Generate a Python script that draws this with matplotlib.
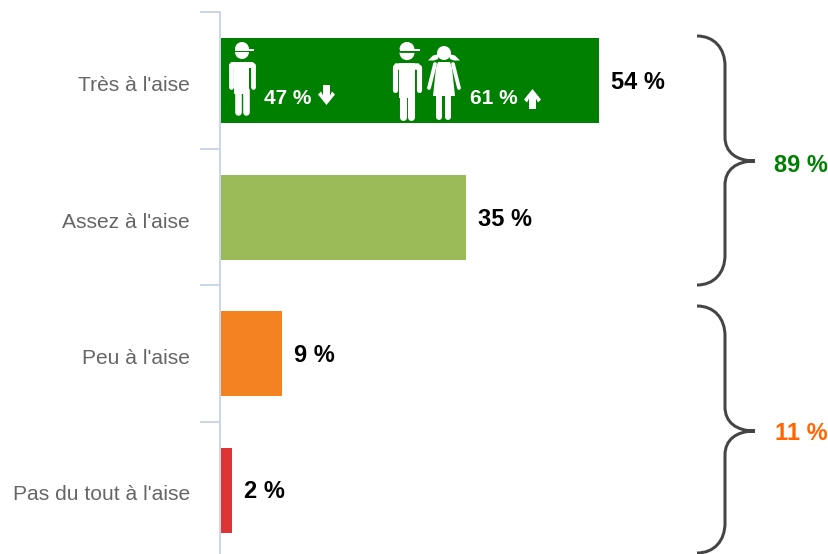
# coding=utf-8
import matplotlib
matplotlib.use("Agg")
import matplotlib.pyplot as plt
from matplotlib.patches import Polygon, Circle, Wedge, PathPatch
from matplotlib.path import Path

plt.rcParams['font.family'] = ['Liberation Sans', 'DejaVu Sans']

categories = ["Très à l'aise", "Assez à l'aise", "Peu à l'aise", "Pas du tout à l'aise"]
values = [54, 35, 8.8, 1.7]
value_labels = ["54 %", "35 %", "9 %", "2 %"]
colors = ["#008000", "#9bbb59", "#f58220", "#e03434"]
group_labels = ["89 %", "11 %"]
group_colors = ["#008000", "#ff6600"]
boy_label = "47 %"
both_label = "61 %"

PX = 72 / 100  # 1 pixel en points
W, H = 829, 554
PX_PER_UNIT = 7.02
BAND = 136.5
FIRST = 80.5

fig = plt.figure(figsize=(W / 100, H / 100), dpi=100)
ax = fig.add_axes([220 / W, 0, (W - 220) / W, 1])
ax.set_xlim(0, (W - 220) / PX_PER_UNIT)
ax.set_ylim((H - FIRST) / BAND, -FIRST / BAND)
ax.patch.set_alpha(0)

ax.barh(range(len(values)), values, height=85 / BAND, color=colors)

for s in ["top", "right", "bottom"]:
    ax.spines[s].set_visible(False)
ax.spines["left"].set_color("#ccd6eb")
ax.spines["left"].set_linewidth(2 * PX)
ax.spines["left"].set_bounds(-0.5, (H - FIRST) / BAND)
ax.set_xticks([])
ax.set_yticks([i - 0.5 for i in range(len(values))])
ax.set_yticklabels([])
ax.tick_params(axis="y", length=20 * PX, width=2 * PX, color="#ccd6eb")

for i, (c, v, lab) in enumerate(zip(categories, values, value_labels)):
    ax.annotate(c, (0, i), xytext=(-30 * PX, -5 * PX), textcoords="offset points",
                ha="right", va="center", fontsize=15.1, color="#666666")
    ax.annotate(lab, (v, i), xytext=(12 * PX, -2 * PX), textcoords="offset points",
                ha="left", va="center", fontsize=17, fontweight="bold", color="black")

# couche en pixels pour les accolades et les pictos
ov = fig.add_axes([0, 0, 1, 1])
ov.set_xlim(0, W)
ov.set_ylim(H, 0)
ov.axis("off")
ov.patch.set_alpha(0)


def brace(top, tip, bottom):
    x0, xv, xt = 697, 725, 755
    verts = [(x0, top), (714, top), (xv, top + 12), (xv, top + 30),
             (xv, tip - 24),
             (xv, tip - 9), (736, tip), (xt, tip),
             (736, tip), (xv, tip + 9), (xv, tip + 24),
             (xv, bottom - 30),
             (xv, bottom - 12), (714, bottom), (x0, bottom)]
    codes = [Path.MOVETO, Path.CURVE4, Path.CURVE4, Path.CURVE4,
             Path.LINETO,
             Path.CURVE4, Path.CURVE4, Path.CURVE4,
             Path.CURVE4, Path.CURVE4, Path.CURVE4,
             Path.LINETO,
             Path.CURVE4, Path.CURVE4, Path.CURVE4]
    ov.add_patch(PathPatch(Path(verts, codes), fc="none", ec="#444444", lw=3 * PX))


def limb(xs, ys, w):
    ov.plot(xs, ys, color="white", lw=w * PX, solid_capstyle="round", solid_joinstyle="round")


def boy(cx, top, s=1.0):
    # casquette + tete (axe y inverse : 180-360 = vers le haut)
    ov.add_patch(Wedge((cx, top + 6 * s), 7 * s, 180, 360, fc="white", ec="none"))
    ov.add_patch(Wedge((cx, top + 9 * s), 7 * s, 0, 180, fc="white", ec="none"))
    ov.plot([cx - 7 * s, cx + 12 * s], [top + 6.5 * s, top + 6.5 * s], color="white", lw=2 * PX,
            solid_capstyle="butt")
    ov.plot([cx - 7 * s, cx + 7 * s], [top + 8.2 * s, top + 8.2 * s], color="#008000", lw=0.8 * PX,
            solid_capstyle="butt")
    # corps
    y0 = top + 19 * s
    ov.add_patch(Polygon([(cx - 11 * s, y0), (cx + 11 * s, y0), (cx + 13 * s, y0 + 3 * s),
                          (cx + 13 * s, y0 + 6 * s), (cx - 13 * s, y0 + 6 * s), (cx - 13 * s, y0 + 3 * s)],
                         fc="white", ec="none"))
    ov.add_patch(Polygon([(cx - 7.5 * s, y0), (cx + 7.5 * s, y0), (cx + 7.5 * s, y0 + 32 * s),
                          (cx - 7.5 * s, y0 + 32 * s)], fc="white", ec="none"))
    limb([cx - 11 * s, cx - 11 * s], [y0 + 3 * s, y0 + 25 * s], 4.8 * s)
    limb([cx + 11 * s, cx + 11 * s], [y0 + 3 * s, y0 + 25 * s], 4.8 * s)
    limb([cx - 4 * s, cx - 4 * s], [y0 + 28 * s, top + 69 * s], 6.6 * s)
    limb([cx + 4 * s, cx + 4 * s], [y0 + 28 * s, top + 69 * s], 6.6 * s)


def girl(cx, top):
    ov.add_patch(Circle((cx, top + 7), 7, fc="white", ec="none"))
    # couettes
    ov.add_patch(Polygon([(cx - 16, top + 14.5), (cx - 11, top + 9.5), (cx - 5, top + 8), (cx - 6, top + 13),
                          (cx - 10, top + 14.5)], fc="white", ec="none"))
    ov.add_patch(Polygon([(cx + 16, top + 14.5), (cx + 11, top + 9.5), (cx + 5, top + 8), (cx + 6, top + 13),
                          (cx + 10, top + 14.5)], fc="white", ec="none"))
    ov.add_patch(Polygon([(cx - 6, top + 16), (cx + 6, top + 16), (cx + 8, top + 22), (cx + 11, top + 50),
                          (cx - 11, top + 50), (cx - 8, top + 22)], fc="white", ec="none"))
    limb([cx - 9, cx - 15], [top + 18, top + 42], 3.8)
    limb([cx + 9, cx + 15], [top + 18, top + 42], 3.8)
    limb([cx - 4.5, cx - 4.5], [top + 48, top + 71], 6)
    limb([cx + 4.5, cx + 4.5], [top + 48, top + 71], 6)


def arrow(cx, cy, direction):
    # direction : 1 vers le bas, -1 vers le haut
    d = direction
    pts = [(cx - 3.5, cy - 10 * d), (cx + 3.5, cy - 10 * d), (cx + 3.5, cy + 0.5 * d), (cx + 5.5, cy - 3.5 * d),
           (cx + 8.5, cy - 0.5 * d), (cx, cy + 10 * d), (cx - 8.5, cy - 0.5 * d), (cx - 5.5, cy - 3.5 * d),
           (cx - 3.5, cy + 0.5 * d)]
    ov.add_patch(Polygon(pts, fc="white", ec="none"))


brace(36, 161, 285)
brace(306, 431, 553)
ov.text(801, 165, group_labels[0], ha="center", va="center", fontsize=17, fontweight="bold", color=group_colors[0])
ov.text(801, 433, group_labels[1], ha="center", va="center", fontsize=17, fontweight="bold", color=group_colors[1])

boy(242, 43, 1.0)
boy(407, 43, 1.07)
girl(444, 46)
ov.text(264, 99, boy_label, ha="left", va="center", fontsize=15, fontweight="bold", color="white")
ov.text(470, 99, both_label, ha="left", va="center", fontsize=15, fontweight="bold", color="white")
arrow(326.5, 95, 1)
arrow(532.5, 99, -1)

fig.savefig("out.png", dpi=100)
